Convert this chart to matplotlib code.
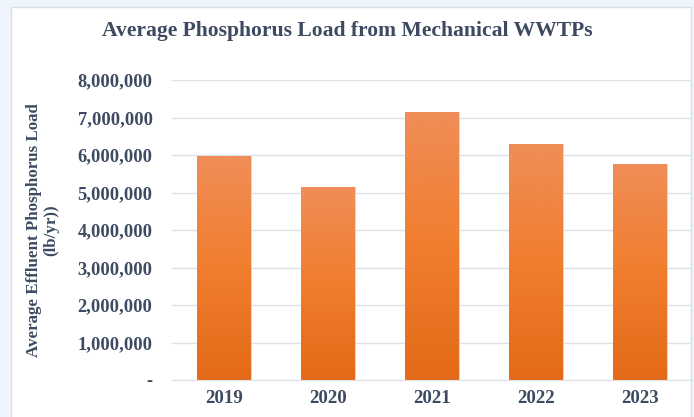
import numpy as np
import matplotlib.pyplot as plt
from matplotlib.patches import Rectangle
from matplotlib.colors import LinearSegmentedColormap
from matplotlib.ticker import FuncFormatter

years = ["2019", "2020", "2021", "2022", "2023"]
loads = [5970000, 5150000, 7150000, 6290000, 5770000]

text_col = "#3D4A62"
grid_col = "#DCE1EA"

plt.rcParams['font.family'] = ['Liberation Serif', 'DejaVu Serif']
plt.rcParams['font.weight'] = 'bold'

fig = plt.figure(figsize=(6.94, 4.17), dpi=100)
fig.patch.set_facecolor("#EEF5FC")
# white chart panel behind the axes
fig.patches.append(Rectangle((11 / 694, -0.05), 680 / 694, 1.05 - 7 / 417,
                             transform=fig.transFigure, facecolor="white",
                             edgecolor="#D8DEE6", linewidth=1.0, zorder=-1))

ax = fig.add_axes([172 / 694, 37 / 417, 520 / 694, 300 / 417])
ax.set_facecolor("none")
ax.set_zorder(1)

x = np.arange(len(years))
width = 0.51
bars = ax.bar(x, loads, width=width, color="#F08D58", edgecolor="#F8D2B8",
              linewidth=0.7, zorder=2)

# vertical gradient inside each bar, light at top, dark at bottom
cmap = LinearSegmentedColormap.from_list(
    "org", ["#E36A18", "#F07E2E", "#F08D58"])
grad = np.linspace(0, 1, 256).reshape(-1, 1)
for b in bars:
    x0 = b.get_x()
    h = b.get_height()
    im = ax.imshow(grad, extent=(x0, x0 + b.get_width(), 0, h),
                   origin="lower", cmap=cmap, aspect="auto",
                   interpolation="bilinear", zorder=2.5)
    im.set_clip_path(b)

ax.set_xlim(-0.5, len(years) - 0.5)
ax.set_ylim(0, 8000000)
ax.set_yticks(np.arange(0, 8000001, 1000000))
ax.yaxis.set_major_formatter(FuncFormatter(
    lambda v, p: "-" if v == 0 else f"{int(v):,}"))
ax.set_xticks(x)
ax.set_xticklabels(years)

ax.grid(axis="y", color=grid_col, linewidth=1.0, zorder=0)
ax.set_axisbelow(True)
for s in ["top", "right", "left"]:
    ax.spines[s].set_visible(False)
ax.spines["bottom"].set_color(grid_col)
ax.tick_params(length=0, colors=text_col, labelsize=13.3)
ax.tick_params(axis="y", pad=14)
ax.tick_params(axis="x", pad=7, labelsize=13.6)
for lbl in ax.get_xticklabels() + ax.get_yticklabels():
    lbl.set_fontweight("bold")

ax.set_ylabel("Average Effluent Phosphorus Load\n(lb/yr))", color=text_col,
              fontsize=12.2, fontweight="bold", labelpad=13, linespacing=1.15)

fig.text(0.5, 1 - 31 / 417, "Average Phosphorus Load from Mechanical WWTPs",
         ha="center", va="center", fontsize=15.6, fontweight="bold",
         color=text_col)

fig.savefig("out.png", dpi=100, facecolor=fig.get_facecolor())
